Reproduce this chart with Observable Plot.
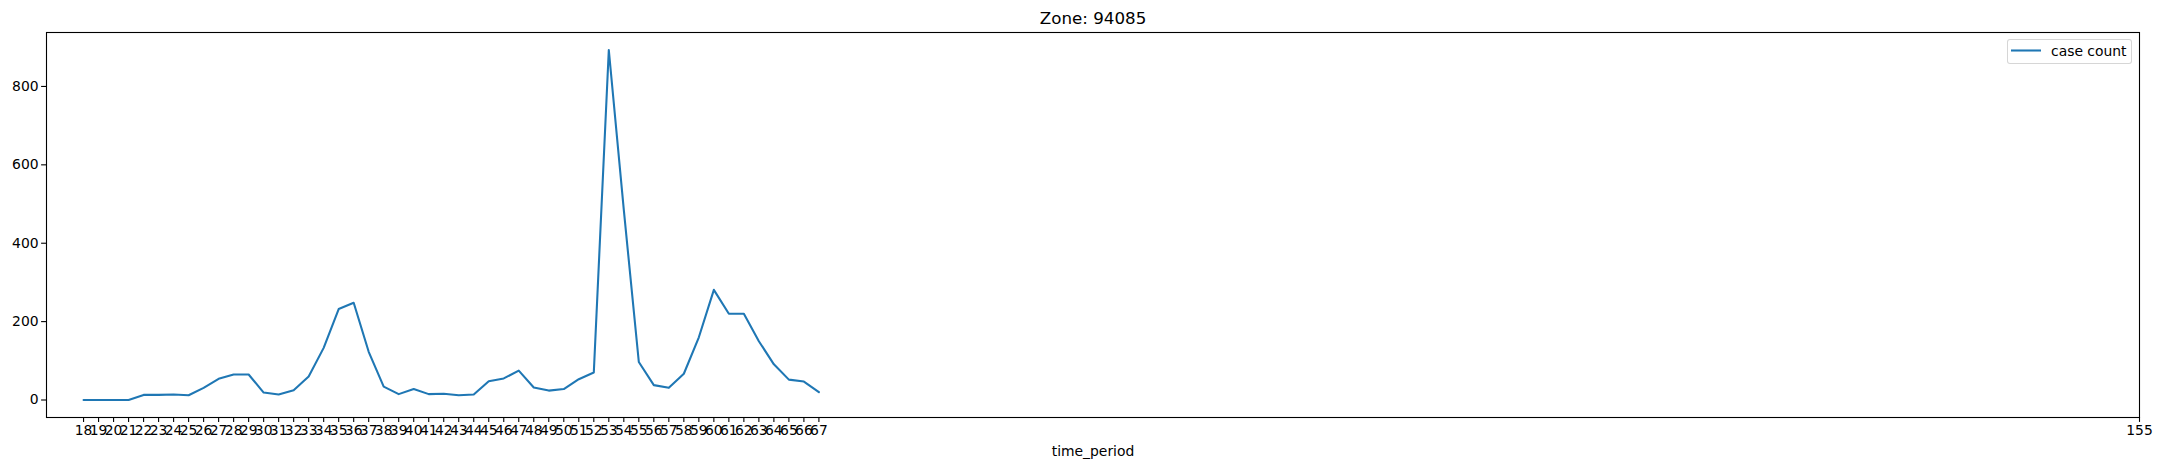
<!DOCTYPE html>
<html>
<head>
<meta charset="utf-8">
<script src="https://cdn.jsdelivr.net/npm/d3@7"></script>
<script src="https://cdn.jsdelivr.net/npm/@observablehq/plot@0.6"></script>
<style>
  html, body { margin: 0; padding: 0; background: #fff; }
  #wrap { position: relative; width: 2161px; height: 470px; font-family: "DejaVu Sans", sans-serif; }
  #legend { position: absolute; left: 2007px; top: 39px; width: 123px; height: 23px;
    border: 1px solid rgba(204,204,204,0.8); border-radius: 3px; background: rgba(255,255,255,0.8);
    box-sizing: content-box; }
  #legend svg { position: absolute; left: 0; top: 0; }
  #legend span { position: absolute; left: 43px; top: 3px; font-size: 13.9px; color: #000; white-space: nowrap; }
</style>
</head>
<body>
<div id="wrap">
  <div id="chart"></div>
  <div id="legend">
    <svg width="40" height="25"><line x1="3" x2="33" y1="10.5" y2="10.5" stroke="#1f77b4" stroke-width="2.08"/></svg>
    <span>case count</span>
  </div>
</div>
<script>
const titleText = "Zone: 94085";
const xLabel = "time_period";
const seriesName = "case count";

const periods = [18,19,20,21,22,23,24,25,26,27,28,29,30,31,32,33,34,35,36,37,38,39,40,41,42,43,44,45,46,47,48,49,50,51,52,53,54,55,56,57,58,59,60,61,62,63,64,65,66,67];
const counts  = [0,0,0,0,13,13,14,12,31,54,65,65,19,14,25,60,133,232,248,123,34,15,28,15,16,12,14,48,55,75,32,24,28,53,70,893,485,97,38,31,67,160,281,220,220,150,91,52,47,20];
const xTicks = [18,19,20,21,22,23,24,25,26,27,28,29,30,31,32,33,34,35,36,37,38,39,40,41,42,43,44,45,46,47,48,49,50,51,52,53,54,55,56,57,58,59,60,61,62,63,64,65,66,67,155];
const yTicks = [0,200,400,600,800];

const data = periods.map((t, i) => ({t, c: counts[i]}));

const chart = Plot.plot({
  width: 2161,
  height: 470,
  marginLeft: 46,
  marginRight: 22,
  marginTop: 32,
  marginBottom: 53,
  style: {fontFamily: "DejaVu Sans, sans-serif", fontSize: "13.9px", color: "#000", background: "#fff"},
  x: {domain: [15.53, 155]},
  y: {domain: [-44.65, 937.65]},
  marks: [
    Plot.line(data, {x: "t", y: "c", stroke: "#1f77b4", strokeWidth: 2.08}),
    Plot.frame({stroke: "#000", strokeWidth: 1.1}),
    Plot.axisX({ticks: xTicks, tickSize: 4.9, tickPadding: 3, tickFormat: d => String(d), label: null, strokeWidth: 1.1}),
    Plot.axisY({ticks: yTicks, tickSize: 4.9, tickPadding: 3, tickFormat: d => String(d), label: null, strokeWidth: 1.1}),
    Plot.text([titleText], {frameAnchor: "top", lineAnchor: "middle", dy: -13.5, fontSize: 16.7, fill: "#000"}),
    Plot.text([xLabel], {frameAnchor: "bottom", lineAnchor: "middle", dy: 34.5, fontSize: 13.9, fill: "#000"})
  ]
});
document.getElementById("chart").appendChild(chart);
document.querySelector("#legend span").textContent = seriesName;
</script>
</body>
</html>
